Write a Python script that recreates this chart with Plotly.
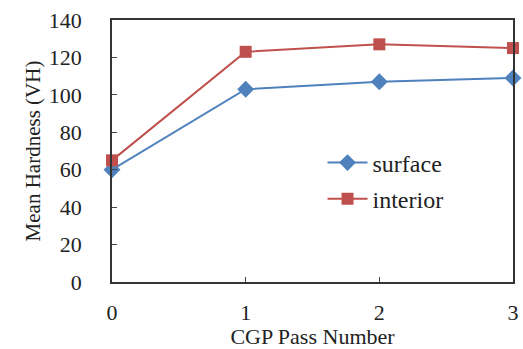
import plotly.graph_objects as go

passes = [0, 1, 2, 3]
surface = [60, 103, 107, 109]
interior = [65, 123, 127, 125]
y_ticks = [0, 20, 40, 60, 80, 100, 120, 140]

font = "Liberation Serif"
fig = go.Figure()
fig.add_trace(go.Scatter(x=passes, y=surface, name="surface", mode="lines+markers",
                         legendgroup="s",
                         line=dict(color="#4F81BD", width=2),
                         marker=dict(symbol="diamond", size=13, color="#4F81BD"),
                         cliponaxis=False))
fig.add_trace(go.Scatter(x=passes, y=interior, name="interior", mode="lines+markers",
                         legendgroup="i",
                         line=dict(color="#C0504D", width=2),
                         marker=dict(symbol="square", size=12, color="#C0504D"),
                         cliponaxis=False))

fig.update_layout(
    width=523, height=349,
    margin=dict(l=112, r=10, t=20, b=67),
    paper_bgcolor="white", plot_bgcolor="white",
    font=dict(family=font, size=22, color="#222"),
    showlegend=True,
    legend=dict(x=0.525, y=0.54, xanchor="left", yanchor="top",
                bgcolor="rgba(0,0,0,0)", font=dict(size=24, family=font),
                itemwidth=40, tracegroupgap=2),
    xaxis=dict(range=[0, 3], tickvals=passes, ticks="inside", ticklen=5,
               showline=True, linecolor="#333", linewidth=1.5, mirror=True,
               showgrid=False, zeroline=False, ticklabelstandoff=10, automargin=False,
               title=dict(text="CGP Pass Number", font=dict(size=22, family=font), standoff=2),
               tickfont=dict(size=22, family=font)),
    yaxis=dict(range=[0, 140], tickvals=y_ticks, ticks="inside", ticklen=5,
               showline=True, linecolor="#333", linewidth=1.5, mirror=True,
               showgrid=False, zeroline=False, ticklabelstandoff=24, automargin=False,
               title=dict(text="Mean Hardness (VH)", font=dict(size=21, family=font), standoff=2),
               tickfont=dict(size=22, family=font)),
)

fig.write_html("out.html")
